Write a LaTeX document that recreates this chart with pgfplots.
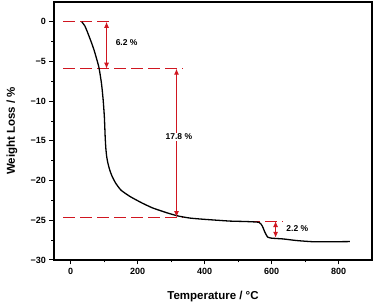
\documentclass[border=0pt]{standalone}
\usepackage{pgfplots}
\pgfplotsset{compat=1.18}
\usepackage{fontspec}
\setmainfont{Liberation Sans}
\usetikzlibrary{arrows.meta}
\definecolor{annred}{RGB}{208,22,32}
\begin{document}
\begin{tikzpicture}[x=1pt,y=1pt,
  ar/.style={draw=annred, fill=annred, line width=0.9pt, {Latex[length=6pt,width=5pt]}-{Latex[length=6pt,width=5pt]}}]
\useasboundingbox (-54pt,-44pt) rectangle (321pt,260pt);
\begin{axis}[
  anchor=south west, at={(0pt,0pt)},
  scale only axis, width=318pt, height=258pt,
  xmin=-50, xmax=900, ymin=-30, ymax=2.5,
  xtick={0,200,400,600,800}, ytick={-30,-25,-20,-15,-10,-5,0},
  yticklabels={−30,−25,−20,−15,−10,−5,0},
  minor x tick num=1, minor y tick num=1,
  tick align=outside, xtick pos=bottom, ytick pos=left,
  major tick length=4.5pt, minor tick length=2.5pt,
  every tick/.style={black, line width=1pt},
  axis line style={line width=1.3pt},
  /pgf/number format/assume math mode=true,
  tick label style={font=\bfseries\fontsize{9}{10}\selectfont},
  xlabel={Temperature / °C}, ylabel={Weight Loss / \%},
  label style={font=\bfseries\fontsize{11.5}{13}\selectfont},
  xlabel style={at={(axis description cs:0.5,-0.14)}, anchor=center},
  ylabel style={at={(axis description cs:-0.132,0.5)}, anchor=center},
  clip=false,
  dl/.style={color=annred, line width=1.15pt, dash pattern=on 12pt off 5pt, forget plot},
]
\addplot[dl] coordinates {(-23,0) (127,0)};
\addplot[dl] coordinates {(-22,-5.9) (336,-5.9)};
\addplot[dl] coordinates {(-23,-24.6) (334,-24.6)};
\addplot[dl] coordinates {(480,-25.1) (633,-25.1)};
\addplot[black, line width=1.3pt, smooth, tension=0.3] coordinates {
(33,0) (42,-0.5) (50,-1.3) (60,-2.4) (70,-3.6) (84,-5.7) (92,-7.8) (97,-9.9)
(100.5,-12) (103,-14.6) (105,-16.0) (107.5,-17.0) (110.5,-17.7) (114,-18.3)
(118,-18.85) (124,-19.5) (134,-20.3) (150,-21.2) (177,-22.0) (212,-22.8)
(245,-23.45) (287,-24.05) (320,-24.45) (356,-24.72) (400,-24.88)
(476,-25.1) (520,-25.15) (562,-25.25) (572,-25.7) (580,-26.5) (588,-27.1)
(600,-27.25) (635,-27.35) (675,-27.55) (724,-27.7) (780,-27.7) (834,-27.68)
};
\draw[ar] (axis cs:107,0) -- (axis cs:107,-5.9);
\draw[ar] (axis cs:316,-5.9) -- (axis cs:316,-24.6);
\draw[ar] (axis cs:612,-25.1) -- (axis cs:612,-27.2);
\node[font=\bfseries\fontsize{8.5}{9}\selectfont] at (axis cs:167,-2.65) {6.2 \%};
\node[font=\bfseries\fontsize{8.5}{9}\selectfont, fill=white, inner sep=1pt] at (axis cs:323,-14.5) {17.8 \%};
\node[font=\bfseries\fontsize{8.5}{9}\selectfont] at (axis cs:677,-26.1) {2.2 \%};
\end{axis}
\end{tikzpicture}
\end{document}
